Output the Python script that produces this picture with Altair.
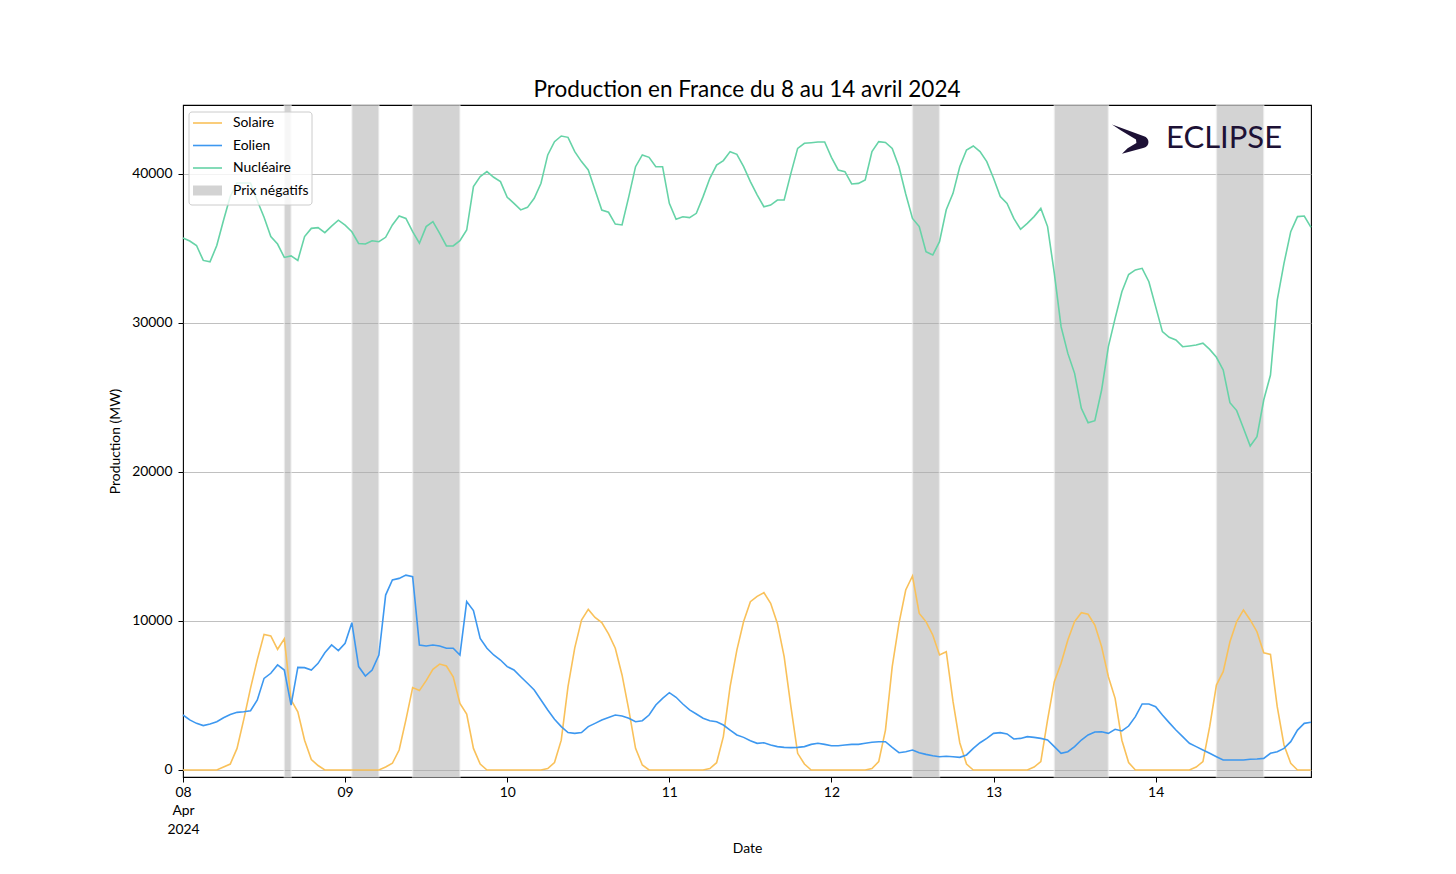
import json
import altair as alt
import pandas as pd

# ---------------- data (MW, hourly from 8 Apr 2024 00:00 to 14 Apr 2024 23:00) ----------------
solaire_mw = [
    0, 0, 0, 0, 0, 0, 200, 400, 1450, 3400, 5500, 7400, 9100, 9000, 8100, 8800, 4700, 3900, 2000, 700, 300, 0, 0, 0,
    0, 0, 0, 0, 0, 0, 200, 450, 1340, 3360, 5530, 5330, 6000, 6760, 7110, 6980, 6260, 4470, 3760, 1450, 400, 0, 0, 0,
    0, 0, 0, 0, 0, 0, 100, 500, 2000, 5600, 8200, 10070, 10780, 10240, 9890, 9130, 8170, 6380, 4030, 1450, 340, 0, 0, 0,
    0, 0, 0, 0, 0, 0, 100, 490, 2240, 5590, 8050, 9960, 11300, 11650, 11900, 11190, 9840, 7610, 4250, 1120, 400, 0, 0, 0,
    0, 0, 0, 0, 0, 0, 100, 560, 2680, 6940, 9840, 12080, 13020, 10510, 9960, 9060, 7720, 7940, 4600, 1830, 400, 0, 0, 0,
    0, 0, 0, 0, 0, 0, 200, 560, 3360, 5930, 7160, 8720, 9960, 10560, 10450, 9730, 8280, 6260, 4810, 2000, 500, 0, 0, 0,
    0, 0, 0, 0, 0, 0, 200, 560, 2910, 5700, 6600, 8610, 9960, 10740, 10070, 9280, 7870, 7760, 4250, 1680, 450, 0, 0, 0,
]
eolien_mw = [
    3690, 3360, 3130, 2980, 3090, 3240, 3510, 3730, 3870, 3910, 3980, 4700, 6150, 6490, 7050, 6710, 4360, 6890, 6870, 6710, 7160, 7870, 8390, 8010,
    8500, 9890, 6940, 6310, 6710, 7720, 11740, 12750, 12860, 13080, 12970, 8390, 8320, 8390, 8320, 8170, 8170, 7720, 11300, 10700, 8830, 8170, 7720, 7380,
    6940, 6710, 6260, 5820, 5370, 4700, 4030, 3400, 2910, 2510, 2460, 2510, 2910, 3130, 3360, 3530, 3690, 3620, 3470, 3240, 3310, 3690, 4360, 4810,
    5190, 4880, 4430, 4030, 3760, 3470, 3310, 3240, 3020, 2680, 2350, 2190, 1970, 1790, 1830, 1680, 1570, 1520, 1500, 1520, 1570, 1720, 1790, 1720,
    1630, 1630, 1680, 1720, 1720, 1790, 1860, 1900, 1900, 1520, 1160, 1230, 1340, 1160, 1050, 960, 890, 920, 890, 850, 1010, 1450, 1830, 2120,
    2460, 2510, 2420, 2080, 2120, 2240, 2190, 2120, 2010, 1570, 1120, 1230, 1570, 2010, 2350, 2550, 2570, 2460, 2730, 2620, 2950, 3580, 4430, 4430,
    4250, 3690, 3180, 2680, 2240, 1790, 1570, 1340, 1120, 890, 670, 670, 670, 670, 720, 740, 780, 1120, 1230, 1450, 1900, 2680, 3130, 3200,
]
nucleaire_mw = [
    35700, 35500, 35200, 34200, 34100, 35200, 36900, 38500, 39400, 39400, 39400, 38200, 37100, 35800, 35300, 34400, 34500, 34200, 35800, 36350, 36400, 36060, 36500, 36900,
    36570, 36120, 35340, 35300, 35520, 35450, 35750, 36580, 37180, 37020, 36130, 35350, 36470, 36800, 36020, 35170, 35170, 35530, 36240, 39150, 39820, 40160, 39780, 39490,
    38440, 38030, 37590, 37760, 38370, 39380, 41280, 42170, 42550, 42460, 41500, 40830, 40270, 38930, 37580, 37430, 36640, 36580, 38480, 40490, 41280, 41120, 40490, 40490,
    38030, 36960, 37130, 37070, 37360, 38480, 39710, 40600, 40900, 41500, 41320, 40490, 39490, 38600, 37800, 37910, 38250, 38250, 40040, 41720, 42060, 42100, 42150, 42150,
    41120, 40270, 40160, 39330, 39370, 39600, 41500, 42170, 42120, 41720, 40490, 38660, 37020, 36470, 34790, 34560, 35460, 37600, 38700, 40490, 41610, 41880, 41500, 40830,
    39710, 38480, 38030, 37020, 36290, 36690, 37140, 37690, 36470, 33330, 29750, 27960, 26620, 24270, 23310, 23440, 25500, 28410, 30310, 32100, 33250, 33560, 33670, 32770,
    31100, 29420, 29040, 28860, 28410, 28460, 28520, 28640, 28230, 27700, 26850, 24650, 24120, 22930, 21740, 22370, 24830, 26510, 31540, 34000, 36130, 37140, 37180, 36420,
]
serie_names = ["Solaire", "Eolien", "Nucléaire"]
band_name = "Prix négatifs"
band_start_h = [15, 25, 34, 108, 129, 153]
band_end_h = [16, 29, 41, 112, 137, 160]
day_tick_h = [0, 24, 48, 72, 96, 120, 144]
day_labels = ["08", "09", "10", "11", "12", "13", "14"]
first_label_extra = ["Apr", "2024"]
y_ticks = [0, 10000, 20000, 30000, 40000]
title_text = "Production en France du 8 au 14 avril 2024"
logo_text = "ECLIPSE"

# ---------------- styling ----------------
colors = ["#f9c15a", "#3d98f0", "#66d3a7", "#a8a8a8"]
FONT = "Lato"
FS = 13.9
W, H = 1128, 672
LOGO_COLOR = "#1d1135"

hours = list(range(len(nucleaire_mw)))
rows = []
for name, vals in zip(serie_names, [solaire_mw, eolien_mw, nucleaire_mw]):
    for h, v in zip(hours, vals):
        rows.append({"heure": h, "mw": v, "serie": name})
df = pd.DataFrame(rows)
df_bands = pd.DataFrame({"debut": band_start_h, "fin": band_end_h, "serie": [band_name] * len(band_start_h)})
df_leg = pd.DataFrame({"serie": serie_names + [band_name], "rang": list(range(len(serie_names) + 1))})
df_logo = pd.DataFrame({"t": [logo_text]})

color_scale = alt.Scale(domain=serie_names + [band_name], range=colors)

label_expr = (
    f"datum.value == {day_tick_h[0]} ? {json.dumps([day_labels[0]] + first_label_extra)} : "
    f"{json.dumps(day_labels)}[datum.value / 24]"
)

x_axis = alt.Axis(
    values=day_tick_h, labelExpr=label_expr, title="Date", grid=False,
    tickSize=5, tickColor="black", labelPadding=3, labelLineHeight=18.5,
    labelFontSize=FS, labelFont=FONT, labelColor="black", labelFlush=False, labelOverlap=False,
    titleFontSize=FS, titleFont=FONT, titleFontWeight="normal", titleColor="black", titlePadding=6,
    domain=False,
)
y_axis = alt.Axis(
    values=y_ticks, format="d", title="Production (MW)", grid=True, gridColor="#b0b0b0", gridWidth=0.8,
    tickSize=5, tickColor="black", labelPadding=6,
    labelFontSize=FS, labelFont=FONT, labelColor="black",
    titleFontSize=FS, titleFont=FONT, titleFontWeight="normal", titleColor="black", titlePadding=9,
    domain=False,
)
x_scale = alt.Scale(domain=[0, 167], nice=False, zero=False)
y_scale = alt.Scale(domain=[-470, 44630], nice=False, zero=False)

bands = alt.Chart(df_bands).mark_rect(fillOpacity=0.5, stroke="#f0f0f0", strokeWidth=1.5, strokeOpacity=0.6).encode(
    x=alt.X("debut:Q", scale=x_scale, axis=x_axis),
    x2="fin:Q",
    y=alt.value(0),
    y2=alt.value(H),
    color=alt.Color("serie:N", scale=color_scale, legend=None),
)

lines = alt.Chart(df).mark_line(strokeWidth=1.6).encode(
    x=alt.X("heure:Q", scale=x_scale, axis=x_axis),
    y=alt.Y("mw:Q", scale=y_scale, axis=y_axis),
    color=alt.Color("serie:N", scale=color_scale, legend=None),
    detail="serie:N",
)

# ---- legend (manual, like matplotlib's) ----
leg_box = alt.Chart(df_logo).mark_rect(
    fill="white", fillOpacity=0.8, stroke="#cccccc", strokeWidth=1, cornerRadius=3
).encode(x=alt.value(6), x2=alt.value(129), y=alt.value(7), y2=alt.value(100))

leg_base = alt.Chart(df_leg).transform_calculate(ly="18 + 22.5 * datum.rang")

leg_lines = leg_base.transform_filter(alt.datum.serie != band_name).mark_rule(strokeWidth=1.6).encode(
    x=alt.value(10), x2=alt.value(39),
    y=alt.Y("ly:Q", scale=None, axis=None),
    color=alt.Color("serie:N", scale=color_scale, legend=None),
)
leg_patch = leg_base.transform_filter(alt.datum.serie == band_name).transform_calculate(
    ly1="datum.ly - 5", ly2="datum.ly + 5"
).mark_rect(fillOpacity=0.5).encode(
    x=alt.value(10), x2=alt.value(39),
    y=alt.Y("ly1:Q", scale=None, axis=None), y2="ly2:Q",
    color=alt.Color("serie:N", scale=color_scale, legend=None),
)
leg_text = leg_base.mark_text(align="left", baseline="middle", fontSize=FS, font=FONT, color="black").encode(
    x=alt.value(50),
    y=alt.Y("ly:Q", scale=None, axis=None),
    text="serie:N",
)

# ---- logo ----
icon_path = ("M -1 -0.72 L 0.6 -0.14 A 0.3 0.3 0 0 1 0.6 0.44 L -0.5 0.74 "
             "L -0.22 0.46 L 0.22 0.2 L 0.2 0.02 L -0.55 -0.42 Z")
logo_icon = alt.Chart(df_logo).mark_point(shape=icon_path, filled=True, size=1600, opacity=1, color=LOGO_COLOR).encode(
    x=alt.value(949), y=alt.value(34)
)
logo_txt = alt.Chart(df_logo).mark_text(align="left", baseline="middle", fontSize=31, font=FONT, color=LOGO_COLOR).encode(
    x=alt.value(983), y=alt.value(34), text="t:N"
)

chart = alt.layer(
    bands, lines, leg_box, leg_lines, leg_patch, leg_text, logo_icon, logo_txt
).properties(
    width=W, height=H,
    background="white",
    title=alt.TitleParams(title_text, fontSize=22.5, font=FONT, fontWeight="normal", color="black", anchor="middle", offset=3),
    padding={"left": 175, "top": 97, "right": 120, "bottom": 80},
    autosize=alt.AutoSizeParams(type="none"),
).configure_view(stroke="black", strokeWidth=1.1)

chart.save("out.html", embed_options={"renderer": "svg", "actions": False})
